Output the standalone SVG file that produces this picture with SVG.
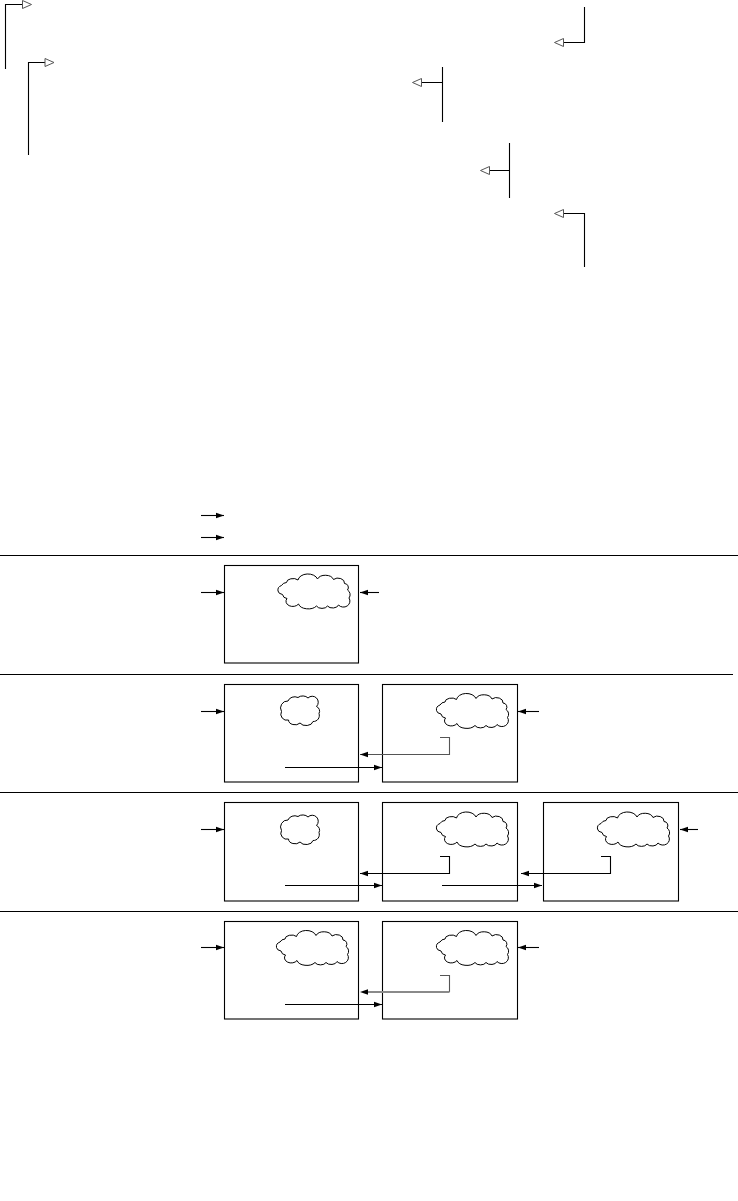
<svg xmlns="http://www.w3.org/2000/svg" width="738" height="1201" viewBox="0 0 738 1201">
<style>
.box{fill:#fff;stroke:#000;stroke-width:1.1}
.cloud{fill:#fff;stroke:#000;stroke-width:1;stroke-linejoin:round}
.line{fill:none;stroke:#000;stroke-width:1.1}
.conn{fill:none;stroke:#000;stroke-width:1.1}
.grey{stroke:#555}
.grey2{stroke:#8a8a8a;stroke-width:1.8}
.hollow{fill:#fff;stroke:#555;stroke-width:1;stroke-linejoin:miter}
</style>
<defs>
<marker id="fa" markerUnits="userSpaceOnUse" markerWidth="9" markerHeight="7" refX="8" refY="3.500" orient="auto">
<path d="M0 0.800L8 3.500L0 6.200Z" fill="#000"/>
</marker>
<path id="bigCloud" d="M0.500 18A5.500 5 0 0 1 4 12.500A6 5.500 0 0 1 9 9.500A6.500 4 0 0 1 20.500 7A10 7 0 0 1 40 6A8.500 6 0 0 1 56 6.500A6.500 5 0 0 1 67 10.500A4 4 0 0 1 70 17A5.500 5.500 0 0 1 71.500 25A6.500 6 0 0 1 61 32A6 4 0 0 1 50 33A6 4 0 0 1 39 33A10 6.500 0 0 1 21 31A6.500 5 0 0 1 9.500 25.500A5 5 0 0 1 5 21.500A6 4 0 0 1 0.500 18Z"/>
<path id="smallCloud" d="M0.500 17.500A7 7 0 0 1 7 7A7 6 0 0 1 17 3.500A6.500 5 0 0 1 27 4A6 6 0 0 1 35.500 12.500A5 5 0 0 1 38 19.500A6 6 0 0 1 32 27.500A7 5 0 0 1 19 29A6.500 5 0 0 1 7.500 26A6 6 0 0 1 0.500 17.500Z"/>
<path id="hollowHead" d="M0 -4L9 0L0 4Z"/>
</defs>
<rect width="738" height="1201" fill="#fff"/>

<g id="dividers">
<path class="line" d="M0 555.500H738M0 674.500H733M0 792.500H738M0 911.500H738"/>
</g>

<g id="row1-box1"><rect class="box" x="224.500" y="565.500" width="134" height="97.500"/><use class="cloud" href="#bigCloud" x="277.500" y="573"/></g>

<g id="row2-box1"><rect class="box" x="224.500" y="684.500" width="134" height="97.500"/><use class="cloud" href="#smallCloud" x="281" y="694"/></g>
<g id="row2-box2"><rect class="box" x="382.500" y="684.500" width="135" height="97.500"/><use class="cloud" href="#bigCloud" x="436" y="692.500"/></g>

<g id="row3-box1"><rect class="box" x="224.500" y="802.500" width="134" height="98.500"/><use class="cloud" href="#smallCloud" x="281" y="813"/></g>
<g id="row3-box2"><rect class="box" x="382.500" y="802.500" width="135" height="98.500"/><use class="cloud" href="#bigCloud" x="436" y="811"/></g>
<g id="row3-box3"><rect class="box" x="543.500" y="802.500" width="135" height="98.500"/><use class="cloud" href="#bigCloud" x="597" y="811"/></g>

<g id="row4-box1"><rect class="box" x="224.500" y="921.500" width="134" height="97.500"/><use class="cloud" href="#bigCloud" x="276" y="929.500"/></g>
<g id="row4-box2"><rect class="box" x="382.500" y="921.500" width="135" height="97.500"/><use class="cloud" href="#bigCloud" x="436" y="929.500"/></g>

<g id="connectors">
<path class="conn" marker-end="url(#fa)" d="M201 515.500H224"/>
<path class="conn" marker-end="url(#fa)" d="M201 537.500H224"/>
<path class="conn" marker-end="url(#fa)" d="M201 592.500H224"/>
<path class="conn" marker-end="url(#fa)" d="M379 592.500H360"/>

<path class="conn" marker-end="url(#fa)" d="M201 711.500H224"/>
<path class="conn" marker-end="url(#fa)" d="M539 711.500H518"/>
<path class="conn grey" marker-end="url(#fa)" d="M440 737.500H449.500V754.500H360"/>
<path class="conn" marker-end="url(#fa)" d="M285 767.500H382"/>

<path class="conn" marker-end="url(#fa)" d="M201 829.500H224"/>
<path class="conn" marker-end="url(#fa)" d="M698 829.500H680"/>
<path class="conn" marker-end="url(#fa)" d="M440 856.500H449.500V873.500H360"/>
<path class="conn" marker-end="url(#fa)" d="M285 885.500H382"/>
<path class="conn" marker-end="url(#fa)" d="M442 885.500H542"/>
<path class="conn" marker-end="url(#fa)" d="M601 856.500H610.500V873.500H521"/>

<path class="conn" marker-end="url(#fa)" d="M201 947.500H224"/>
<path class="conn" marker-end="url(#fa)" d="M539 947.500H518"/>
<path class="conn grey" d="M440 975.500H449.500V992"/>
<path class="conn grey2" d="M449.500 992H368"/>
<path d="M360 992L368 989.300V994.700Z" fill="#000"/>
<path class="conn" marker-end="url(#fa)" d="M285 1004.500H382"/>

<path class="conn" d="M5.500 69V4.500H22.500"/>
<use class="hollow" href="#hollowHead" transform="translate(22.500 4.500)"/>
<path class="conn" d="M28.500 155V62.500H45.500"/>
<use class="hollow" href="#hollowHead" transform="translate(45 62.500)"/>
<path class="conn" d="M584.500 7V42.500H563.500"/>
<use class="hollow" href="#hollowHead" transform="translate(563.500 42.500) rotate(180)"/>
<path class="conn" d="M442.500 67V122M442.500 82.500H421.500"/>
<use class="hollow" href="#hollowHead" transform="translate(421.500 82.500) rotate(180)"/>
<path class="conn" d="M509.500 143V198M509.500 170.500H489.500"/>
<use class="hollow" href="#hollowHead" transform="translate(489.500 170.500) rotate(180)"/>
<path class="conn" d="M584.500 267V213.500H563.500"/>
<use class="hollow" href="#hollowHead" transform="translate(563.500 213.500) rotate(180)"/>
</g>
</svg>
